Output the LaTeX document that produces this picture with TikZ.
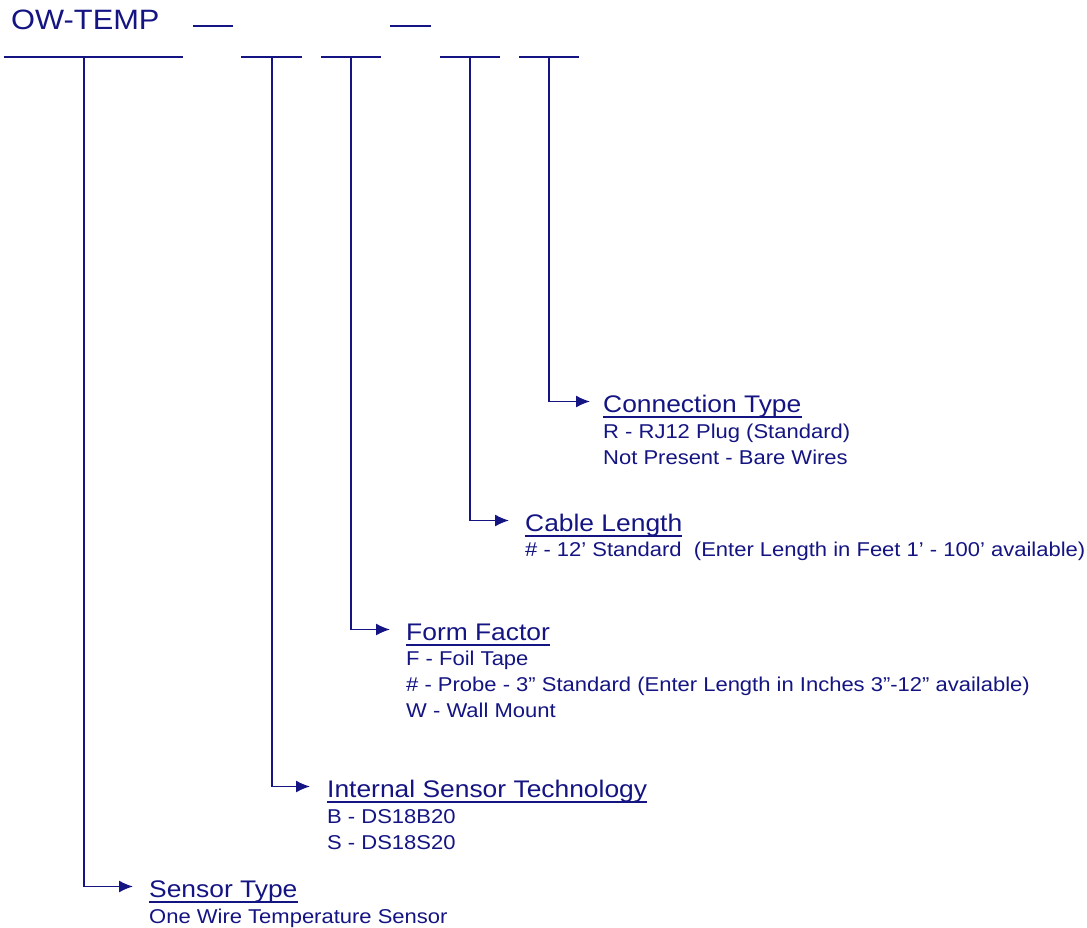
\documentclass[tikz,border=0pt]{standalone}
\usepackage{fontspec}
\setmainfont{Liberation Sans}[FakeStretch=1.1]
\usepackage{tikz}
\usetikzlibrary{arrows.meta}
\definecolor{owblue}{RGB}{20,20,130}
\tikzset{
  wire/.style={draw=owblue, line width=1.4pt},
  tip/.style={-{Latex[length=14pt, width=12pt]}},
  uline/.style={draw=owblue, line width=1.6pt},
  heading/.style={anchor=base west, inner sep=0pt, text height=21pt, text depth=0pt, text=owblue, font=\fontsize{24}{26}\selectfont},
  item/.style={anchor=base west, inner sep=0pt, align=left, text=owblue, font=\fontsize{20}{26}\selectfont}
}

\begin{document}
\begin{tikzpicture}[x=1pt, y=-1pt]
\useasboundingbox (0,0) rectangle (1087,928);

\node[inner sep=0pt, anchor=base west, text=owblue, font=\fontsize{28}{30}\selectfont] (pn) at (11,30) {OW-TEMP};
\draw[wire] (193,26) -- (233,26);
\draw[wire] (390,26) -- (431,26);

% blanks
\coordinate (f1) at (84,57);
\coordinate (f2) at (272,57);
\coordinate (f3) at (351,57);
\coordinate (f4) at (470,57);
\coordinate (f5) at (549,57);
\draw[wire] (4,57) -- (183,57);
\draw[wire] (241,57) -- (302,57);
\draw[wire] (321,57) -- (381,57);
\draw[wire] (440,57) -- (500,57);
\draw[wire] (519,57) -- (579,57);

% fields (a multi-line item sits on its last line)
\node[heading] (ct) at (603,412) {Connection Type};
\node[item] (cti) at ([yshift=-52pt]ct.base west) {R - RJ12 Plug (Standard)\\Not Present - Bare Wires};

\node[heading] (cl) at (525,531) {Cable Length};
\node[item] (cli) at ([yshift=-25pt]cl.base west) {\# - 12’ Standard\ \ (Enter Length in Feet 1’ - 100’ available)};

\node[heading] (ff) at (406,640) {Form Factor};
\node[item] (ffi) at ([yshift=-77pt]ff.base west) {F - Foil Tape\\\# - Probe - 3” Standard (Enter Length in Inches 3”-12” available)\\W - Wall Mount};

\node[heading] (ist) at (327,797) {Internal Sensor Technology};
\node[item] (isti) at ([yshift=-52pt]ist.base west) {B - DS18B20\\S - DS18S20};

\node[heading] (sty) at (149,897) {Sensor Type};
\node[item] (styi) at ([yshift=-26pt]sty.base west) {One Wire Temperature Sensor};

\foreach \h in {ct,cl,ff,ist,sty}
  \draw[uline] ([yshift=-5pt]\h.base west) -- ([yshift=-5pt]\h.base east);

\draw[wire, tip] (f5) |- ([xshift=-13pt]ct.west);
\draw[wire, tip] (f4) |- ([xshift=-16pt]cl.west);
\draw[wire, tip] (f3) |- ([xshift=-16pt]ff.west);
\draw[wire, tip] (f2) |- ([xshift=-17pt]ist.west);
\draw[wire, tip] (f1) |- ([xshift=-16pt]sty.west);
\end{tikzpicture}
\end{document}
